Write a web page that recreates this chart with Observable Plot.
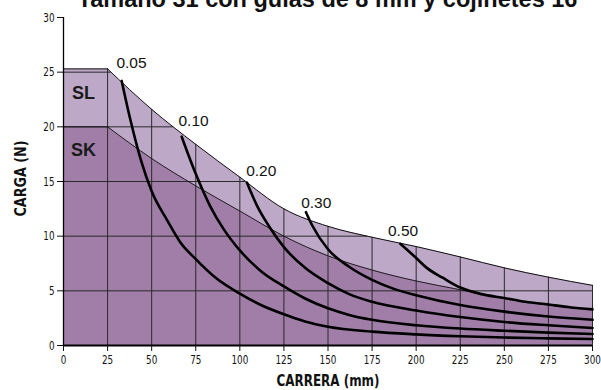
<!DOCTYPE html>
<html><head><meta charset="utf-8">
<script src="https://cdn.jsdelivr.net/npm/d3@7"></script>
<script src="https://cdn.jsdelivr.net/npm/@observablehq/plot@0.6"></script>
<style>
html,body{margin:0;padding:0;background:#fff;overflow:hidden;width:601px;height:390px}
#title{font:bold 23.5px "Liberation Sans",Arial,sans-serif;line-height:22px;height:22px;margin-top:-14px;position:relative;top:2px;text-align:center;padding-left:54px;white-space:nowrap;color:#111}
</style></head><body>
<div id="title">Tamaño 31 con guías de 8 mm y cojinetes 16</div>
<div id="chart"></div>
<script>
// Stroke positions (mm) where the zone boundaries were read
const strokeX = [0, 25, 50, 75, 100, 125, 150, 175, 200, 225, 250, 275, 300];
// Upper boundary of SL zone (N)
const slLoad = [25.3, 25.3, 21.6, 18.4, 15.4, 12.5, 10.9, 9.9, 9.05, 8.1, 7.1, 6.25, 5.5];
// Upper boundary of SK zone (N)
const skLoad = [20, 20, 17.1, 14.6, 12.3, 10.0, 8.2, 6.9, 5.9, 5.1, 4.3, 3.7, 3.3];

// Speed curves (labels and read points)
const speeds = ["0.05", "0.10", "0.20", "0.30", "0.50"];
const c005x = [33, 38, 44, 50, 59, 66, 75, 87, 100, 112, 125, 137, 150, 175, 200, 225, 250, 275, 300];
const c005y = [24.2, 20.6, 16.9, 14.1, 11.4, 9.5, 7.9, 6.1, 4.75, 3.7, 2.85, 2.2, 1.72, 1.27, 1.02, 0.85, 0.73, 0.65, 0.6];
const c010x = [67, 75, 83, 91, 100, 112, 125, 137, 150, 162, 175, 200, 225, 250, 275, 300];
const c010y = [19.1, 15.7, 12.8, 10.6, 8.7, 6.8, 5.4, 4.3, 3.4, 2.8, 2.35, 1.85, 1.55, 1.35, 1.18, 1.05];
const c020x = [104, 110, 117, 125, 137, 150, 162, 175, 200, 225, 250, 275, 300];
const c020y = [14.9, 12.7, 10.8, 9.0, 7.1, 5.7, 4.7, 4.0, 3.2, 2.6, 2.15, 1.85, 1.6];
const c030x = [137.5, 141, 150, 162, 175, 187, 200, 225, 250, 275, 300];
const c030y = [12.2, 11.0, 8.8, 7.2, 6.0, 5.2, 4.6, 3.7, 3.1, 2.65, 2.35];
const c050x = [191, 200, 206, 215, 225, 237, 250, 262, 275, 287, 300];
const c050y = [9.3, 8.0, 7.1, 6.2, 5.3, 4.7, 4.35, 4.0, 3.75, 3.5, 3.3];

// Curve label anchors (data units)
const labelX = [30, 65.2, 103.6, 134.8, 184];
const labelY = [25.85, 20.55, 16.0, 13.07, 10.43];

// Zone names
const zoneNames = ["SL", "SK"];
const zoneX = [11.3, 11.3];
const zoneY = [23.1, 17.9];

// Axis ticks
const xTicks = [0, 25, 50, 75, 100, 125, 150, 175, 200, 225, 250, 275, 300];
const yTicks = [0, 5, 10, 15, 20, 25, 30];
const gridY = [5, 10, 15, 20, 25];

const boundary = strokeX.map((x, i) => ({x, sl: slLoad[i], sk: skLoad[i]}));
const flatPart = boundary.slice(0, 2);   // constant section up to 25 mm
const curvedPart = boundary.slice(1);    // descending section from 25 mm
const curveSets = [[c005x, c005y], [c010x, c010y], [c020x, c020y], [c030x, c030y], [c050x, c050y]];
const curves = curveSets.flatMap(([xs, ys], k) => xs.map((x, i) => ({x, y: ys[i], speed: speeds[k]})));

// x where SL boundary drops to a given load (linear interpolation of read points)
function slCross(v) {
  for (let i = 1; i < strokeX.length; i++) {
    if (slLoad[i] <= v && slLoad[i - 1] >= v) {
      const t = (slLoad[i - 1] - v) / (slLoad[i - 1] - slLoad[i] || 1);
      return strokeX[i - 1] + t * (strokeX[i] - strokeX[i - 1]);
    }
  }
  return strokeX[strokeX.length - 1];
}

const light = "#bea8c8";
const dark = "#a07ea8";
const gridColor = "#2a2a2a";
const sans = '"Liberation Sans",Arial,sans-serif';

const chart = Plot.plot({
  width: 601,
  height: 382,
  marginTop: 9,
  marginBottom: 45,
  marginLeft: 63,
  marginRight: 9,
  style: {fontFamily: '"Liberation Sans Narrow","DejaVu Sans Condensed","Liberation Sans",sans-serif', fontSize: "12px", color: "#111", background: "#fff"},
  x: {domain: [0, 300]},
  y: {domain: [0, 30]},
  marks: [
    Plot.areaY(flatPart, {x: "x", y: "sl", fill: light}),
    Plot.areaY(curvedPart, {x: "x", y: "sl", curve: "monotone-x", fill: light}),
    Plot.areaY(flatPart, {x: "x", y: "sk", fill: dark}),
    Plot.areaY(curvedPart, {x: "x", y: "sk", curve: "monotone-x", fill: dark}),
    Plot.ruleX(strokeX.slice(1), {x: d => d, y1: 0, y2: d => slLoad[strokeX.indexOf(d)], stroke: gridColor, strokeWidth: 1}),
    Plot.ruleY(gridY, {y: d => d, x1: 0, x2: d => slCross(d), stroke: gridColor, strokeWidth: 1}),
    Plot.lineY(flatPart, {x: "x", y: "sl", stroke: "#111", strokeWidth: 1}),
    Plot.lineY(curvedPart, {x: "x", y: "sl", curve: "monotone-x", stroke: "#111", strokeWidth: 1}),
    Plot.lineY(flatPart, {x: "x", y: "sk", stroke: "#111", strokeWidth: 0.9}),
    Plot.lineY(curvedPart, {x: "x", y: "sk", curve: "monotone-x", stroke: "#111", strokeWidth: 0.9}),
    Plot.line(curves, {x: "x", y: "y", z: "speed", curve: "monotone-x", stroke: "#000", strokeWidth: 2.6}),
    Plot.text(speeds, {x: (d, i) => labelX[i], y: (d, i) => labelY[i], text: d => d, textAnchor: "start", fontSize: 15.5, fill: "#111", fontFamily: sans}),
    Plot.text(zoneNames, {x: (d, i) => zoneX[i], y: (d, i) => zoneY[i], text: d => d, fontSize: 18, fontWeight: "bold", fill: "#1a1a1a", fontFamily: sans}),
    Plot.ruleY([0], {x1: 0, x2: 300, stroke: "#000", strokeWidth: 2}),
    Plot.ruleX([0], {y1: 0, y2: 30, stroke: "#000", strokeWidth: 1.3}),
    Plot.axisX({ticks: xTicks, tickSize: 6, tickPadding: 3, tickFormat: d => String(d), label: null}),
    Plot.axisY({ticks: yTicks, tickSize: 6, tickPadding: 3, tickFormat: d => String(d), label: null}),
    Plot.text(["CARRERA (mm)"], {frameAnchor: "bottom", dy: 36, textAnchor: "middle", lineAnchor: "middle", text: d => d, fontWeight: "bold", fontSize: 15}),
    Plot.text(["CARGA (N)"], {frameAnchor: "middle", dx: -306.5, dy: -3, rotate: -90, textAnchor: "middle", lineAnchor: "middle", text: d => d, fontWeight: "bold", fontSize: 15})
  ]
});
document.getElementById("chart").appendChild(chart);

// condensed look for tick labels and axis titles
chart.querySelectorAll("text").forEach(el => {
  const t = el.textContent;
  if (/^\d+$/.test(t)) {
    el.style.fontSize = "13px";
    el.setAttribute("textLength", (t.length * 5.6).toFixed(1));
    el.setAttribute("lengthAdjust", "spacingAndGlyphs");
  } else if (t === "CARRERA (mm)") {
    el.setAttribute("textLength", 103);
    el.setAttribute("lengthAdjust", "spacingAndGlyphs");
  } else if (t === "CARGA (N)") {
    el.setAttribute("textLength", 76);
    el.setAttribute("lengthAdjust", "spacingAndGlyphs");
  }
});
</script>
</body></html>
